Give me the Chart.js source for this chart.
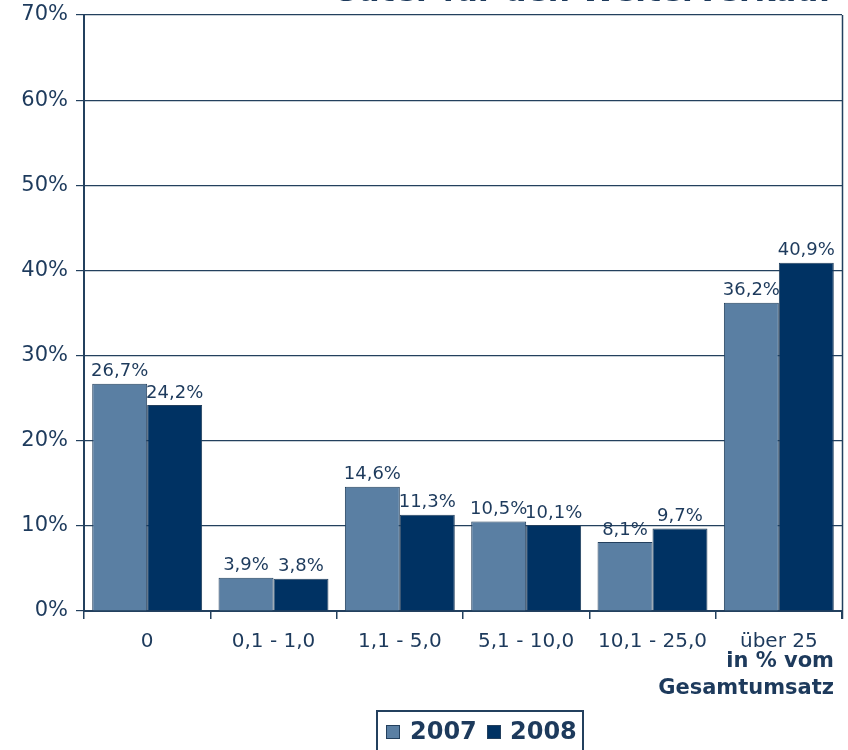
<!DOCTYPE html>
<html>
<head>
<meta charset="utf-8">
<script src="https://cdn.jsdelivr.net/npm/chart.js@4/dist/chart.umd.min.js"></script>
<style>
  html, body { margin: 0; padding: 0; background: #fff; }
  #wrap { width: 848px; height: 750px; position: relative; }
</style>
</head>
<body>
<div id="wrap"><canvas id="chart" width="848" height="750"></canvas></div>
<script>
// --- Données ---
const categories = ['0', '0,1 - 1,0', '1,1 - 5,0', '5,1 - 10,0', '10,1 - 25,0', 'über 25'];
const values2007 = [26.7, 3.9, 14.6, 10.5, 8.1, 36.2];
const values2008 = [24.2, 3.8, 11.3, 10.1, 9.7, 40.9];
const seriesNames = ['2007', '2008'];
const titleText = 'Güter für den Weiterverkauf';
const axisTitle = ['in % vom', 'Gesamtumsatz'];

// --- Couleurs ---
const TEXT = '#1d3a5c';
const LINE = '#23405e';
const COLORS = ['#5a7fa3', '#003263'];
const FONT = '"DejaVu Sans", Verdana, sans-serif';

// Étiquettes de valeur au-dessus des barres + titre, axe, légende
const decorPlugin = {
    id: 'decor',
    afterDatasetsDraw(chart) {
        const ctx = chart.ctx;
        ctx.save();
        ctx.fillStyle = TEXT;
        ctx.font = '18px ' + FONT;
        ctx.textAlign = 'center';
        ctx.textBaseline = 'bottom';
        chart.data.datasets.forEach((ds, i) => {
            chart.getDatasetMeta(i).data.forEach((bar, j) => {
                const label = ds.data[j].toFixed(1).replace('.', ',') + '%';
                ctx.fillText(label, bar.x, bar.y - 3);
            });
        });
        ctx.restore();
    },
    afterDraw(chart) {
        const ctx = chart.ctx;
        const area = chart.chartArea;
        ctx.save();

        // bord droit
        ctx.strokeStyle = LINE;
        ctx.lineWidth = 1.5;
        ctx.beginPath();
        ctx.moveTo(area.right + 0.5, area.top);
        ctx.lineTo(area.right + 0.5, area.bottom + 8);
        ctx.stroke();

        // titre (coupé en haut)
        ctx.fillStyle = TEXT;
        ctx.font = 'bold 32px ' + FONT;
        ctx.textAlign = 'right';
        ctx.textBaseline = 'alphabetic';
        ctx.fillText(titleText, 832, 1, 500);

        // titre de l'axe x
        ctx.font = 'bold 21px ' + FONT;
        ctx.textBaseline = 'middle';
        ctx.fillText(axisTitle[0], 834, 662);
        ctx.fillText(axisTitle[1], 834, 689);

        // légende encadrée
        ctx.strokeStyle = LINE;
        ctx.lineWidth = 2;
        ctx.strokeRect(377, 711, 206, 60);
        ctx.font = 'bold 24px ' + FONT;
        ctx.textAlign = 'left';
        const items = [[386, 410], [487, 510]];
        seriesNames.forEach((name, i) => {
            ctx.fillStyle = COLORS[i];
            ctx.fillRect(items[i][0], 725, 14, 14);
            ctx.lineWidth = 1;
            ctx.strokeRect(items[i][0] + 0.5, 725.5, 13, 13);
            ctx.fillStyle = TEXT;
            ctx.fillText(name, items[i][1], 733);
        });
        ctx.restore();
    }
};

new Chart(document.getElementById('chart'), {
    type: 'bar',
    data: {
        labels: categories,
        datasets: [values2007, values2008].map((data, i) => ({
            label: seriesNames[i],
            data: data,
            backgroundColor: COLORS[i],
            borderColor: LINE,
            borderWidth: 1,
            categoryPercentage: 0.87,
            barPercentage: 1
        }))
    },
    options: {
        responsive: false,
        animation: false,
        layout: { padding: { top: 15, right: 6, left: 0, bottom: 0 } },
        plugins: {
            legend: { display: false },
            title: { display: false },
            tooltip: { enabled: false }
        },
        scales: {
            x: {
                afterFit(scale) {
                    scale.height = 139;
                    scale.paddingLeft = 0;
                    scale.paddingRight = 0;
                },
                grid: { drawOnChartArea: false, color: LINE, tickLength: 8, lineWidth: 1.5 },
                border: { color: LINE, width: 2 },
                ticks: { color: TEXT, font: { family: FONT, size: 20 }, padding: 11, maxRotation: 0 }
            },
            y: {
                min: 0,
                max: 70,
                afterFit(scale) {
                    scale.width = 84;
                    scale.paddingTop = 0;
                    scale.paddingBottom = 0;
                },
                grid: { color: LINE, lineWidth: 1.2, tickLength: 8 },
                border: { color: LINE, width: 2 },
                ticks: {
                    stepSize: 10,
                    color: TEXT,
                    font: { family: FONT, size: 21 },
                    padding: 8,
                    callback: v => v + '%'
                }
            }
        }
    },
    plugins: [decorPlugin]
});
</script>
</body>
</html>
